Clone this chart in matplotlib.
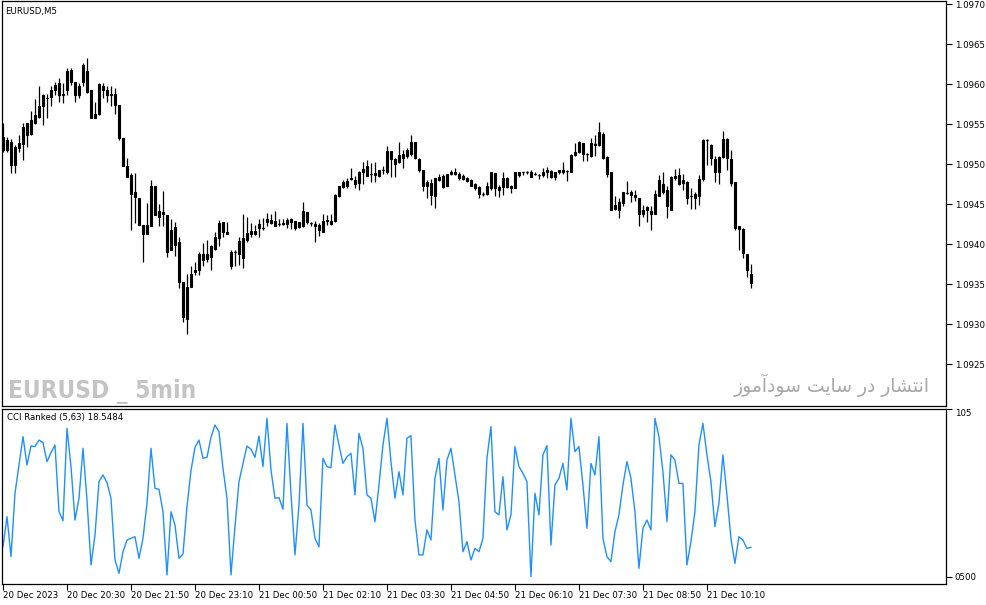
import matplotlib
matplotlib.use('Agg')
from matplotlib import pyplot as plt
import numpy as np

# EURUSD M5 candles, 188 bars (open, high, low, close)
opens = [1.09534, 1.09518, 1.09528, 1.09499, 1.09520, 1.09525, 1.09551, 1.09538, 1.09551, 1.09559,
         1.09572, 1.09583, 1.09584, 1.09593, 1.09601, 1.09588, 1.09592, 1.09618, 1.09602, 1.09586,
         1.09603, 1.09616, 1.09592, 1.09558, 1.09562, 1.09598, 1.09593, 1.09588, 1.09588, 1.09574,
         1.09532, 1.09497, 1.09486, 1.09465, 1.09457, 1.09424, 1.09413, 1.09423, 1.09472, 1.09434,
         1.09440, 1.09436, 1.09392, 1.09421, 1.09403, 1.09353, 1.09306, 1.09346, 1.09365, 1.09368,
         1.09388, 1.09381, 1.09384, 1.09394, 1.09408, 1.09427, 1.09415, 1.09390, 1.09390, 1.09388,
         1.09382, 1.09405, 1.09413, 1.09413, 1.09425, 1.09420, 1.09428, 1.09430, 1.09429, 1.09425,
         1.09426, 1.09425, 1.09431, 1.09429, 1.09421, 1.09422, 1.09440, 1.09426, 1.09425, 1.09424,
         1.09415, 1.09430, 1.09425, 1.09429, 1.09460, 1.09478, 1.09472, 1.09483, 1.09480, 1.09476,
         1.09490, 1.09497, 1.09488, 1.09489, 1.09485, 1.09493, 1.09490, 1.09516, 1.09506, 1.09502,
         1.09508, 1.09510, 1.09513, 1.09527, 1.09506, 1.09493, 1.09472, 1.09476, 1.09460, 1.09480,
         1.09485, 1.09472, 1.09488, 1.09490, 1.09488, 1.09485, 1.09483, 1.09480, 1.09475, 1.09471,
         1.09463, 1.09463, 1.09470, 1.09489, 1.09468, 1.09471, 1.09482, 1.09472, 1.09470, 1.09486,
         1.09490, 1.09490, 1.09490, 1.09488, 1.09486, 1.09486, 1.09490, 1.09491, 1.09484, 1.09492,
         1.09490, 1.09491, 1.09490, 1.09511, 1.09515, 1.09526, 1.09512, 1.09510, 1.09524, 1.09524,
         1.09538, 1.09509, 1.09490, 1.09444, 1.09442, 1.09451, 1.09464, 1.09465, 1.09461, 1.09457,
         1.09437, 1.09446, 1.09441, 1.09438, 1.09460, 1.09475, 1.09468, 1.09443, 1.09482, 1.09486,
         1.09476, 1.09478, 1.09460, 1.09458, 1.09460, 1.09481, 1.09530, 1.09524, 1.09506, 1.09490,
         1.09509, 1.09531, 1.09506, 1.09477, 1.09419, 1.09419, 1.09388, 1.09362]
highs = [1.09551, 1.09534, 1.09531, 1.09524, 1.09536, 1.09551, 1.09551, 1.09566, 1.09581, 1.09597,
         1.09588, 1.09588, 1.09597, 1.09603, 1.09607, 1.09601, 1.09620, 1.09620, 1.09603, 1.09601,
         1.09626, 1.09632, 1.09593, 1.09578, 1.09601, 1.09601, 1.09597, 1.09597, 1.09595, 1.09574,
         1.09532, 1.09507, 1.09489, 1.09489, 1.09457, 1.09424, 1.09451, 1.09480, 1.09472, 1.09450,
         1.09466, 1.09436, 1.09431, 1.09428, 1.09409, 1.09353, 1.09363, 1.09372, 1.09377, 1.09390,
         1.09401, 1.09405, 1.09399, 1.09415, 1.09430, 1.09428, 1.09428, 1.09393, 1.09393, 1.09409,
         1.09438, 1.09434, 1.09426, 1.09424, 1.09431, 1.09433, 1.09439, 1.09438, 1.09441, 1.09431,
         1.09431, 1.09432, 1.09433, 1.09429, 1.09428, 1.09453, 1.09440, 1.09428, 1.09429, 1.09426,
         1.09438, 1.09436, 1.09438, 1.09463, 1.09473, 1.09480, 1.09482, 1.09495, 1.09485, 1.09491,
         1.09502, 1.09505, 1.09501, 1.09502, 1.09493, 1.09498, 1.09522, 1.09516, 1.09507, 1.09528,
         1.09518, 1.09520, 1.09536, 1.09527, 1.09507, 1.09493, 1.09480, 1.09481, 1.09483, 1.09488,
         1.09488, 1.09488, 1.09492, 1.09495, 1.09490, 1.09488, 1.09484, 1.09481, 1.09476, 1.09473,
         1.09465, 1.09478, 1.09490, 1.09489, 1.09474, 1.09490, 1.09484, 1.09474, 1.09490, 1.09490,
         1.09490, 1.09491, 1.09493, 1.09490, 1.09488, 1.09495, 1.09496, 1.09492, 1.09490, 1.09493,
         1.09502, 1.09493, 1.09513, 1.09526, 1.09529, 1.09526, 1.09514, 1.09533, 1.09536, 1.09552,
         1.09540, 1.09510, 1.09490, 1.09460, 1.09458, 1.09465, 1.09479, 1.09468, 1.09467, 1.09458,
         1.09449, 1.09447, 1.09447, 1.09468, 1.09486, 1.09490, 1.09472, 1.09485, 1.09494, 1.09495,
         1.09487, 1.09479, 1.09470, 1.09465, 1.09486, 1.09531, 1.09531, 1.09525, 1.09510, 1.09510,
         1.09541, 1.09532, 1.09517, 1.09477, 1.09422, 1.09420, 1.09388, 1.09375]
lows = [1.09515, 1.09515, 1.09489, 1.09489, 1.09515, 1.09505, 1.09521, 1.09536, 1.09550, 1.09557,
        1.09549, 1.09557, 1.09572, 1.09586, 1.09577, 1.09576, 1.09586, 1.09599, 1.09577, 1.09582,
        1.09597, 1.09589, 1.09557, 1.09557, 1.09561, 1.09582, 1.09577, 1.09572, 1.09562, 1.09530,
        1.09497, 1.09484, 1.09417, 1.09426, 1.09424, 1.09378, 1.09413, 1.09423, 1.09436, 1.09422,
        1.09422, 1.09384, 1.09392, 1.09385, 1.09345, 1.09303, 1.09288, 1.09346, 1.09361, 1.09361,
        1.09372, 1.09377, 1.09368, 1.09393, 1.09397, 1.09409, 1.09412, 1.09369, 1.09372, 1.09374,
        1.09370, 1.09403, 1.09409, 1.09411, 1.09409, 1.09418, 1.09422, 1.09425, 1.09422, 1.09423,
        1.09424, 1.09420, 1.09419, 1.09418, 1.09420, 1.09421, 1.09425, 1.09423, 1.09403, 1.09410,
        1.09415, 1.09424, 1.09424, 1.09428, 1.09459, 1.09470, 1.09470, 1.09480, 1.09470, 1.09468,
        1.09475, 1.09485, 1.09477, 1.09478, 1.09484, 1.09488, 1.09488, 1.09484, 1.09484, 1.09501,
        1.09495, 1.09507, 1.09510, 1.09506, 1.09490, 1.09466, 1.09458, 1.09449, 1.09445, 1.09479,
        1.09470, 1.09472, 1.09486, 1.09486, 1.09480, 1.09480, 1.09478, 1.09472, 1.09468, 1.09458,
        1.09460, 1.09461, 1.09468, 1.09460, 1.09459, 1.09461, 1.09470, 1.09464, 1.09470, 1.09484,
        1.09486, 1.09487, 1.09484, 1.09486, 1.09481, 1.09484, 1.09482, 1.09482, 1.09480, 1.09488,
        1.09488, 1.09479, 1.09490, 1.09510, 1.09514, 1.09504, 1.09504, 1.09509, 1.09510, 1.09523,
        1.09506, 1.09484, 1.09442, 1.09442, 1.09433, 1.09447, 1.09462, 1.09453, 1.09454, 1.09423,
        1.09434, 1.09428, 1.09418, 1.09438, 1.09460, 1.09463, 1.09433, 1.09443, 1.09480, 1.09474,
        1.09468, 1.09450, 1.09444, 1.09444, 1.09449, 1.09479, 1.09499, 1.09499, 1.09478, 1.09475,
        1.09508, 1.09492, 1.09472, 1.09418, 1.09393, 1.09382, 1.09359, 1.09345]
closes = [1.09517, 1.09530, 1.09499, 1.09521, 1.09526, 1.09546, 1.09536, 1.09555, 1.09561, 1.09573,
          1.09586, 1.09582, 1.09593, 1.09599, 1.09586, 1.09586, 1.09616, 1.09602, 1.09586, 1.09598,
          1.09624, 1.09590, 1.09557, 1.09562, 1.09600, 1.09592, 1.09586, 1.09586, 1.09574, 1.09532,
          1.09497, 1.09484, 1.09462, 1.09459, 1.09424, 1.09412, 1.09424, 1.09472, 1.09436, 1.09441,
          1.09438, 1.09390, 1.09418, 1.09399, 1.09353, 1.09309, 1.09346, 1.09363, 1.09368, 1.09388,
          1.09380, 1.09388, 1.09397, 1.09409, 1.09426, 1.09415, 1.09413, 1.09373, 1.09390, 1.09404,
          1.09407, 1.09414, 1.09416, 1.09416, 1.09420, 1.09420, 1.09431, 1.09426, 1.09423, 1.09425,
          1.09425, 1.09430, 1.09428, 1.09420, 1.09427, 1.09441, 1.09427, 1.09426, 1.09422, 1.09418,
          1.09429, 1.09429, 1.09429, 1.09461, 1.09472, 1.09471, 1.09479, 1.09481, 1.09475, 1.09490,
          1.09494, 1.09485, 1.09488, 1.09486, 1.09492, 1.09493, 1.09516, 1.09506, 1.09500, 1.09511,
          1.09513, 1.09518, 1.09528, 1.09507, 1.09493, 1.09472, 1.09477, 1.09461, 1.09482, 1.09484,
          1.09471, 1.09488, 1.09490, 1.09488, 1.09483, 1.09481, 1.09479, 1.09473, 1.09470, 1.09463,
          1.09463, 1.09473, 1.09490, 1.09470, 1.09471, 1.09483, 1.09471, 1.09470, 1.09490, 1.09490,
          1.09490, 1.09490, 1.09484, 1.09488, 1.09486, 1.09490, 1.09493, 1.09484, 1.09490, 1.09490,
          1.09493, 1.09491, 1.09511, 1.09515, 1.09527, 1.09513, 1.09512, 1.09526, 1.09525, 1.09540,
          1.09508, 1.09488, 1.09443, 1.09449, 1.09452, 1.09465, 1.09464, 1.09461, 1.09459, 1.09437,
          1.09443, 1.09442, 1.09437, 1.09462, 1.09480, 1.09465, 1.09448, 1.09484, 1.09485, 1.09475,
          1.09480, 1.09458, 1.09460, 1.09462, 1.09481, 1.09530, 1.09530, 1.09507, 1.09490, 1.09509,
          1.09531, 1.09508, 1.09476, 1.09420, 1.09422, 1.09389, 1.09367, 1.09351]

# CCI Ranked (5,63)
cci = [18.9, 37.7, 12.7, 52.3, 70.0, 87.7, 70.0, 81.9, 81.5, 85.6,
       84.0, 72.1, 77.7, 82.5, 40.8, 35.2, 92.9, 69.0, 35.6, 49.2,
       80.4, 48.1, 7.5, 26.3, 59.6, 63.8, 59.0, 49.2, 10.6, 2.3,
       15.8, 23.1, 24.2, 25.2, 11.7, 24.2, 46.0, 80.4, 55.4, 54.8,
       40.8, 1.3, 40.8, 32.5, 11.7, 14.4, 44.0, 66.5, 81.0, 85.6,
       74.2, 74.8, 87.3, 95.0, 90.8, 67.9, 49.2, 1.3, 31.5, 59.6,
       70.6, 81.9, 79.8, 74.8, 88.1, 69.0, 99.2, 66.9, 49.2, 49.6,
       42.3, 96.0, 52.3, 13.8, 45.0, 96.0, 45.0, 41.9, 24.2, 18.9,
       74.2, 69.0, 68.3, 95.0, 82.5, 71.0, 75.2, 77.3, 51.3, 89.8,
       80.4, 51.3, 49.2, 34.6, 57.5, 82.5, 99.2, 72.1, 49.2, 65.8,
       51.3, 86.7, 88.3, 35.6, 13.8, 13.8, 29.4, 23.1, 61.7, 74.2,
       41.9, 73.1, 80.4, 63.8, 47.1, 15.8, 22.1, 10.6, 17.9, 15.8,
       24.2, 74.2, 94.0, 40.8, 38.8, 62.7, 29.4, 38.8, 81.5, 69.0,
       64.8, 59.6, 0.2, 52.3, 38.8, 76.3, 82.1, 20.0, 57.5, 61.7,
       71.0, 54.4, 99.2, 78.3, 81.5, 57.5, 30.4, 71.0, 63.8, 87.7,
       24.2, 12.7, 9.6, 28.3, 38.8, 57.5, 72.1, 61.7, 40.8, 5.4,
       30.4, 35.6, 29.4, 99.2, 87.7, 65.8, 34.6, 76.3, 73.1, 58.5,
       58.5, 7.5, 22.1, 40.8, 82.5, 96.0, 76.3, 59.6, 31.5, 46.0,
       76.3, 51.3, 24.2, 8.5, 25.2, 23.1, 17.9, 18.5484]

time_labels = ['20 Dec 2023', '20 Dec 20:30', '20 Dec 21:50', '20 Dec 23:10',
               '21 Dec 00:50', '21 Dec 02:10', '21 Dec 03:30', '21 Dec 04:50',
               '21 Dec 06:10', '21 Dec 07:30', '21 Dec 08:50', '21 Dec 10:10']
time_label_bars = [0, 16, 32, 48, 64, 80, 96, 112, 128, 144, 160, 176]
price_ticks = [1.0925, 1.0930, 1.0935, 1.0940, 1.0945, 1.0950, 1.0955, 1.0960, 1.0965, 1.0970]

persian = 'انتشار در سایت سودآموز'

# presentation forms: isolated, final, initial, medial
forms = {
    'ا': ('\ufe8d', '\ufe8e', None, None),
    'آ': ('\ufe81', '\ufe82', None, None),
    'ن': ('\ufee5', '\ufee6', '\ufee7', '\ufee8'),
    'ت': ('\ufe95', '\ufe96', '\ufe97', '\ufe98'),
    'ش': ('\ufeb5', '\ufeb6', '\ufeb7', '\ufeb8'),
    'ر': ('\ufead', '\ufeae', None, None),
    'د': ('\ufea9', '\ufeaa', None, None),
    'س': ('\ufeb1', '\ufeb2', '\ufeb3', '\ufeb4'),
    'ی': ('\ufbfc', '\ufbfd', '\ufef3', '\ufef4'),
    'و': ('\ufeed', '\ufeee', None, None),
    'م': ('\ufee1', '\ufee2', '\ufee3', '\ufee4'),
    'ز': ('\ufeaf', '\ufeb0', None, None),
}


def shape(txt):
    out = []
    for k, ch in enumerate(txt):
        if ch not in forms:
            out.append(ch)
            continue
        prev = txt[k - 1] if k > 0 else ' '
        nxt = txt[k + 1] if k + 1 < len(txt) else ' '
        jp = prev in forms and forms[prev][2] is not None
        jn = nxt in forms and forms[ch][2] is not None
        if jp and jn:
            out.append(forms[ch][3])
        elif jp:
            out.append(forms[ch][1])
        elif jn:
            out.append(forms[ch][2])
        else:
            out.append(forms[ch][0])
    return ''.join(out)[::-1]


o = np.array(opens)
h = np.array(highs)
l = np.array(lows)
c = np.array(closes)
x = np.arange(len(o))

W, H = 987, 605
fig = plt.figure(figsize=(W / 100, H / 100), dpi=100)
fig.patch.set_facecolor('white')


def box(x0, y0, x1, y1):
    return [x0 / W, 1 - y1 / H, (x1 - x0) / W, (y1 - y0) / H]


ax = fig.add_axes(box(2, 1, 946.5, 406))
ax2 = fig.add_axes(box(2, 408.5, 946.5, 584))

# candles
ax.vlines(x, l, h, color='black', lw=0.9)
up = c >= o
bw = 0.7
ax.bar(x, np.abs(c - o), bottom=np.minimum(o, c), width=bw,
       color=np.where(up, 'white', 'black'), edgecolor='black', linewidth=0.8)
doji = np.abs(c - o) < 0.000015
ax.hlines(c[doji], x[doji] - bw / 2, x[doji] + bw / 2, color='black', lw=1.0)

ax.set_xlim(-0.25, 235.9)
ax.set_ylim(1.091975, 1.0970375)
ax.yaxis.tick_right()
ax.set_yticks(price_ticks, ['%.4f' % p for p in price_ticks])
ax.set_xticks([])
ax.tick_params(axis='y', direction='out', length=4, width=0.8, labelsize=6.2, pad=2)
for s in ax.spines.values():
    s.set_linewidth(0.9)

ax.text(0.003, 0.985, 'EURUSD,M5', transform=ax.transAxes, fontsize=6.2, va='top', ha='left')

# CCI panel
ax2.plot(x, cci, color='#1e90ff', lw=1.0)
ax2.set_xlim(-0.25, 235.9)
ax2.set_ylim(-4.375, 105.3)
ax2.yaxis.tick_right()
ax2.set_yticks([0, 105], ['0500', '105'])
ax2.get_yticklabels()[1].set_va('top')
ax2.tick_params(axis='y', direction='out', length=4, width=0.8, labelsize=6.2, pad=2)
ax2.set_xticks(time_label_bars, time_labels)
for t in ax2.get_xticklabels():
    t.set_ha('left')
ax2.tick_params(axis='x', direction='out', length=4, width=0.8, labelsize=6.2, pad=1)
for s in ax2.spines.values():
    s.set_linewidth(0.9)

ax2.text(0.005, 0.975, 'CCI Ranked (5,63) %.4f' % cci[-1], transform=ax2.transAxes,
         fontsize=6.2, va='top', ha='left')

# watermarks
fig.text(8 / W, 1 - 398 / H, 'EURUSD _ 5min', fontsize=17.5, fontweight='bold',
         fontstretch='condensed', color='#c4c4c4', family=['DejaVu Sans'],
         ha='left', va='baseline')
fig.text(930 / W, 1 - 392 / H, shape(persian), fontsize=13.5,
         color='#a8a8a8', family=['DejaVu Sans'], ha='right', va='baseline')

fig.savefig('out.png', dpi=100, facecolor='white')
